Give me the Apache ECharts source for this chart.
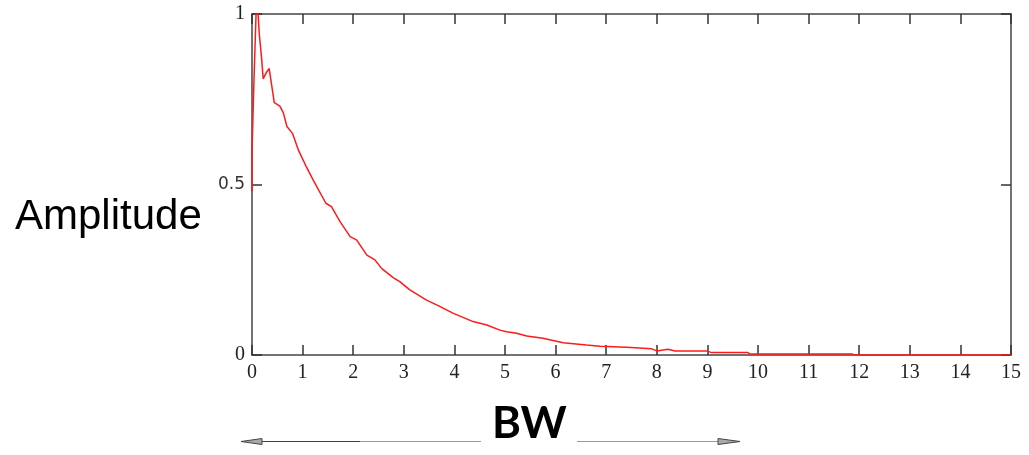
<!DOCTYPE html>
<html>
<head>
<meta charset="utf-8">
<script src="https://cdn.jsdelivr.net/npm/echarts@6/dist/echarts.min.js"></script>
<style>
  html, body { margin: 0; padding: 0; background: #fff; }
  #chart { width: 1029px; height: 455px; }
</style>
</head>
<body>
<div id="chart"></div>
<script>
// Normalised amplitude spectrum against bandwidth
const bw = [0, 0, 0.04, 0.08, 0.12, 0.145, 0.19, 0.22, 0.29, 0.34, 0.39, 0.44, 0.55, 0.62, 0.69, 0.80,
  0.92, 1.08, 1.21, 1.46, 1.57, 1.74, 1.94, 2.07, 2.27, 2.43, 2.56, 2.79, 2.92, 3.12, 3.45, 3.72, 3.98,
  4.37, 4.64, 4.9, 5.03, 5.23, 5.43, 5.75, 6.15, 6.61, 6.88, 7.4, 7.9, 8.0, 8.22, 8.36, 8.99, 9.08,
  9.8, 9.84, 11.86, 11.9, 15];
const amplitude = [0.48, 0.6, 0.81, 1.0, 1.0, 0.94, 0.87, 0.81, 0.83, 0.84, 0.79, 0.74, 0.73, 0.71, 0.67, 0.65,
  0.60, 0.55, 0.513, 0.445, 0.435, 0.391, 0.347, 0.337, 0.293, 0.279, 0.254, 0.227, 0.215, 0.191, 0.161, 0.142, 0.122,
  0.098, 0.088, 0.073, 0.068, 0.064, 0.056, 0.049, 0.036, 0.029, 0.026, 0.023, 0.018, 0.012, 0.017, 0.012, 0.012, 0.007,
  0.007, 0.003, 0.003, 0, 0];
const xTicks = [0, 15, 1];     // min, max, step
const yTicks = [0, 1, 0.5];

const points = bw.map((x, i) => [x, amplitude[i]]);

const axisColor = '#444';
const serif = '"Liberation Serif", "DejaVu Serif", serif';
const tick = { show: true, inside: true, length: 10, lineStyle: { color: '#333', width: 1.5 } };
const line = { show: true, onZero: false, lineStyle: { color: axisColor, width: 1.5 } };

const chart = echarts.init(document.getElementById('chart'));
chart.setOption({
  animation: false,
  grid: { left: 252, right: 18, top: 14, bottom: 100 },
  xAxis: [{
    type: 'value', min: xTicks[0], max: xTicks[1], interval: xTicks[2], position: 'bottom',
    axisLine: line, axisTick: tick,
    axisLabel: { color: '#222', fontFamily: serif, fontSize: 20, margin: 8 },
    splitLine: { show: false }
  }, {
    type: 'value', min: xTicks[0], max: xTicks[1], interval: xTicks[2], position: 'top',
    axisLine: line, axisTick: tick,
    axisLabel: { show: false },
    splitLine: { show: false }
  }],
  yAxis: [{
    type: 'value', min: yTicks[0], max: yTicks[1], interval: yTicks[2], position: 'left',
    axisLine: line, axisTick: tick,
    axisLabel: {
      margin: 7,
      formatter: v => v === 0.5 ? '{s|0.5}' : '{r|' + v + '}',
      rich: {
        s: { fontFamily: '"DejaVu Sans", sans-serif', fontSize: 17, color: '#333' },
        r: { fontFamily: serif, fontSize: 20, color: '#222' }
      }
    },
    splitLine: { show: false }
  }, {
    type: 'value', min: yTicks[0], max: yTicks[1], interval: yTicks[2], position: 'right',
    axisLine: line, axisTick: tick,
    axisLabel: { show: false },
    splitLine: { show: false }
  }],
  series: [{
    type: 'line',
    data: points,
    xAxisIndex: 0,
    yAxisIndex: 0,
    showSymbol: false,
    lineStyle: { color: '#ff1a1a', width: 1.5 },
    z: 5
  }],
  graphic: [
    { type: 'text', left: 15, top: 196, style: { text: 'Amplitude', font: '42px "Liberation Sans", Arial, sans-serif', fill: '#000' } },
    { type: 'text', left: 492, top: 402, style: { text: 'BW', font: 'bold 44px Lato, "Open Sans", sans-serif', fill: '#000' } },
    // left arrow
    { type: 'line', shape: { x1: 250, y1: 441.5, x2: 360, y2: 441.5 }, style: { stroke: '#444', lineWidth: 1 } },
    { type: 'line', shape: { x1: 360, y1: 441.5, x2: 481, y2: 441.5 }, style: { stroke: '#999', lineWidth: 1 } },
    { type: 'polygon', shape: { points: [[241, 441.5], [262, 438.5], [262, 444.5]] }, style: { fill: '#aaa', stroke: '#444', lineWidth: 1 } },
    // right arrow
    { type: 'line', shape: { x1: 577, y1: 441.5, x2: 730, y2: 441.5 }, style: { stroke: '#999', lineWidth: 1 } },
    { type: 'polygon', shape: { points: [[740, 441.5], [718, 438.5], [718, 444.5]] }, style: { fill: '#aaa', stroke: '#444', lineWidth: 1 } }
  ]
});
</script>
</body>
</html>
